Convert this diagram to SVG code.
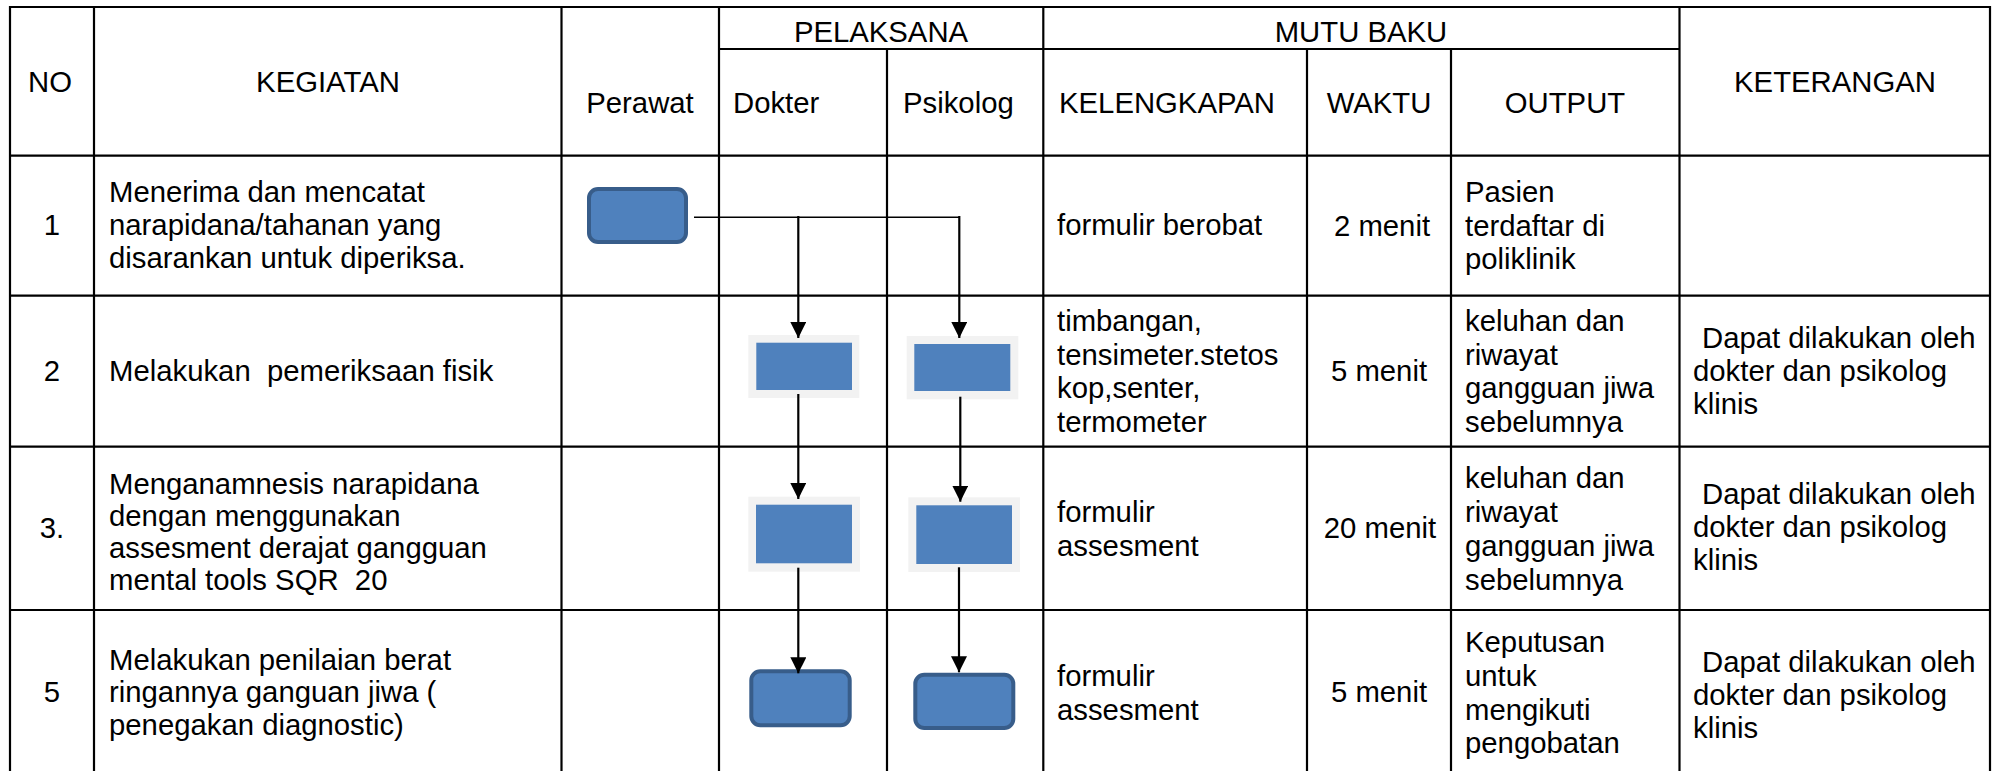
<svg xmlns="http://www.w3.org/2000/svg" width="1995" height="771" viewBox="0 0 1995 771">
  <style>
    .grid { stroke: #000; stroke-width: 2.2; fill: none; }
    .t { font-family: "Liberation Sans", Arial, sans-serif; font-size: 29.3px; fill: #000; }
    .c { text-anchor: middle; }
    .proc { fill: #4F81BD; }
    .halo { fill: #F2F2F2; }
    .term { fill: #4F81BD; stroke: #385D8A; stroke-width: 4; }
    .flow { stroke: #000; stroke-width: 2.2; fill: none; }
    .flow-thin { stroke: #000; stroke-width: 1.6; fill: none; }
  </style>
  <defs>
    <marker id="arrow" viewBox="0 0 16 16" markerWidth="16" markerHeight="16" markerUnits="userSpaceOnUse" refX="16" refY="8" orient="auto">
      <path d="M0,0 L16,8 L0,16 z" fill="#000"/>
    </marker>
  </defs>

  <rect width="1995" height="771" fill="#fff"/>

  <!-- table grid -->
  <g id="grid" class="grid">
    <line x1="9" y1="7" x2="1991" y2="7"/>
    <line x1="719" y1="49" x2="1679" y2="49"/>
    <line x1="9" y1="155.7" x2="1991" y2="155.7"/>
    <line x1="9" y1="295.7" x2="1991" y2="295.7"/>
    <line x1="9" y1="446.7" x2="1991" y2="446.7"/>
    <line x1="9" y1="610" x2="1991" y2="610"/>
    <line x1="10" y1="6" x2="10" y2="771"/>
    <line x1="94" y1="7" x2="94" y2="771"/>
    <line x1="561.5" y1="7" x2="561.5" y2="771"/>
    <line x1="719" y1="7" x2="719" y2="771"/>
    <line x1="887" y1="49" x2="887" y2="771"/>
    <line x1="1043.3" y1="7" x2="1043.3" y2="771"/>
    <line x1="1307" y1="49" x2="1307" y2="771"/>
    <line x1="1451" y1="49" x2="1451" y2="771"/>
    <line x1="1679.5" y1="7" x2="1679.5" y2="771"/>
    <line x1="1990" y1="6" x2="1990" y2="771"/>
  </g>

  <!-- header -->
  <g id="header" class="t">
    <text class="t c" x="50" y="92">NO</text>
    <text class="t c" x="328" y="92">KEGIATAN</text>
    <text class="t c" x="640" y="113">Perawat</text>
    <text class="t c" x="881" y="42">PELAKSANA</text>
    <text class="t" x="733" y="113">Dokter</text>
    <text class="t" x="903" y="113">Psikolog</text>
    <text class="t c" x="1361" y="42">MUTU BAKU</text>
    <text class="t" x="1059" y="113">KELENGKAPAN</text>
    <text class="t c" x="1379" y="113">WAKTU</text>
    <text class="t c" x="1565" y="113">OUTPUT</text>
    <text class="t c" x="1835" y="92">KETERANGAN</text>
  </g>

  <!-- row 1 -->
  <g id="row1" class="t">
    <text class="t c" x="52" y="235">1</text>
    <text class="t" x="109" y="202">Menerima dan mencatat</text>
    <text class="t" x="109" y="235">narapidana/tahanan yang</text>
    <text class="t" x="109" y="268">disarankan untuk diperiksa.</text>
    <text class="t" x="1057" y="235">formulir berobat</text>
    <text class="t c" x="1382" y="236">2 menit</text>
    <text class="t" x="1465" y="202">Pasien</text>
    <text class="t" x="1465" y="236">terdaftar di</text>
    <text class="t" x="1465" y="269">poliklinik</text>
  </g>

  <!-- row 2 -->
  <g id="row2" class="t">
    <text class="t c" x="52" y="381">2</text>
    <text class="t" x="109" y="381" xml:space="preserve">Melakukan  pemeriksaan fisik</text>
    <text class="t" x="1057" y="331">timbangan,</text>
    <text class="t" x="1057" y="364.5">tensimeter.stetos</text>
    <text class="t" x="1057" y="398">kop,senter,</text>
    <text class="t" x="1057" y="431.5">termometer</text>
    <text class="t c" x="1379" y="381">5 menit</text>
    <text class="t" x="1465" y="331">keluhan dan</text>
    <text class="t" x="1465" y="364.5">riwayat</text>
    <text class="t" x="1465" y="398">gangguan jiwa</text>
    <text class="t" x="1465" y="431.5">sebelumnya</text>
    <text class="t" x="1702" y="348">Dapat dilakukan oleh</text>
    <text class="t" x="1693" y="381">dokter dan psikolog</text>
    <text class="t" x="1693" y="414">klinis</text>
  </g>

  <!-- row 3 -->
  <g id="row3" class="t">
    <text class="t c" x="52" y="538">3.</text>
    <text class="t" x="109" y="493.5">Menganamnesis narapidana</text>
    <text class="t" x="109" y="526">dengan menggunakan</text>
    <text class="t" x="109" y="558">assesment derajat gangguan</text>
    <text class="t" x="109" y="590" xml:space="preserve">mental tools SQR  20</text>
    <text class="t" x="1057" y="522">formulir</text>
    <text class="t" x="1057" y="556">assesment</text>
    <text class="t c" x="1380" y="538">20 menit</text>
    <text class="t" x="1465" y="488">keluhan dan</text>
    <text class="t" x="1465" y="522">riwayat</text>
    <text class="t" x="1465" y="556">gangguan jiwa</text>
    <text class="t" x="1465" y="590">sebelumnya</text>
    <text class="t" x="1702" y="504">Dapat dilakukan oleh</text>
    <text class="t" x="1693" y="537">dokter dan psikolog</text>
    <text class="t" x="1693" y="570">klinis</text>
  </g>

  <!-- row 5 -->
  <g id="row5" class="t">
    <text class="t c" x="52" y="702">5</text>
    <text class="t" x="109" y="670">Melakukan penilaian berat</text>
    <text class="t" x="109" y="702">ringannya ganguan jiwa (</text>
    <text class="t" x="109" y="735">penegakan diagnostic)</text>
    <text class="t" x="1057" y="686">formulir</text>
    <text class="t" x="1057" y="720">assesment</text>
    <text class="t c" x="1379" y="702">5 menit</text>
    <text class="t" x="1465" y="652">Keputusan</text>
    <text class="t" x="1465" y="686">untuk</text>
    <text class="t" x="1465" y="720">mengikuti</text>
    <text class="t" x="1465" y="753">pengobatan</text>
    <text class="t" x="1702" y="672">Dapat dilakukan oleh</text>
    <text class="t" x="1693" y="705">dokter dan psikolog</text>
    <text class="t" x="1693" y="738">klinis</text>
  </g>

  <!-- flow nodes -->
  <g id="node-perawat-1">
    <rect class="term" x="589" y="189" width="97" height="53" rx="9"/>
  </g>
  <g id="node-dokter-2">
    <rect class="halo" x="748.3" y="335" width="111" height="63"/>
    <rect class="proc" x="756.3" y="342.7" width="95.7" height="47.3"/>
  </g>
  <g id="node-psikolog-2">
    <rect class="halo" x="906.7" y="336" width="111.6" height="63.3"/>
    <rect class="proc" x="914.3" y="344" width="96" height="47"/>
  </g>
  <g id="node-dokter-3">
    <rect class="halo" x="748.3" y="496.7" width="111.7" height="75"/>
    <rect class="proc" x="756" y="504.7" width="96" height="58.6"/>
  </g>
  <g id="node-psikolog-3">
    <rect class="halo" x="908.3" y="497.3" width="111.7" height="74.7"/>
    <rect class="proc" x="916.3" y="505.3" width="95.7" height="58.7"/>
  </g>
  <g id="node-dokter-5">
    <rect class="term" x="751.3" y="671.3" width="98.4" height="54" rx="9"/>
  </g>
  <g id="node-psikolog-5">
    <rect class="term" x="915.3" y="674.7" width="98" height="53.3" rx="9"/>
  </g>

  <!-- connectors -->
  <g id="connectors">
    <line class="flow-thin" x1="694" y1="217.3" x2="960" y2="217.3"/>
    <line class="flow" x1="798.3" y1="216" x2="798.3" y2="338" marker-end="url(#arrow)"/>
    <line class="flow" x1="959.3" y1="216" x2="959.3" y2="338" marker-end="url(#arrow)"/>
    <line class="flow" x1="798.3" y1="394" x2="798.3" y2="499" marker-end="url(#arrow)"/>
    <line class="flow" x1="960.3" y1="396.7" x2="960.3" y2="501.7" marker-end="url(#arrow)"/>
    <line class="flow" x1="798.3" y1="567.7" x2="798.3" y2="673.3" marker-end="url(#arrow)"/>
    <line class="flow" x1="959" y1="567.3" x2="959" y2="672.3" marker-end="url(#arrow)"/>
  </g>
</svg>
